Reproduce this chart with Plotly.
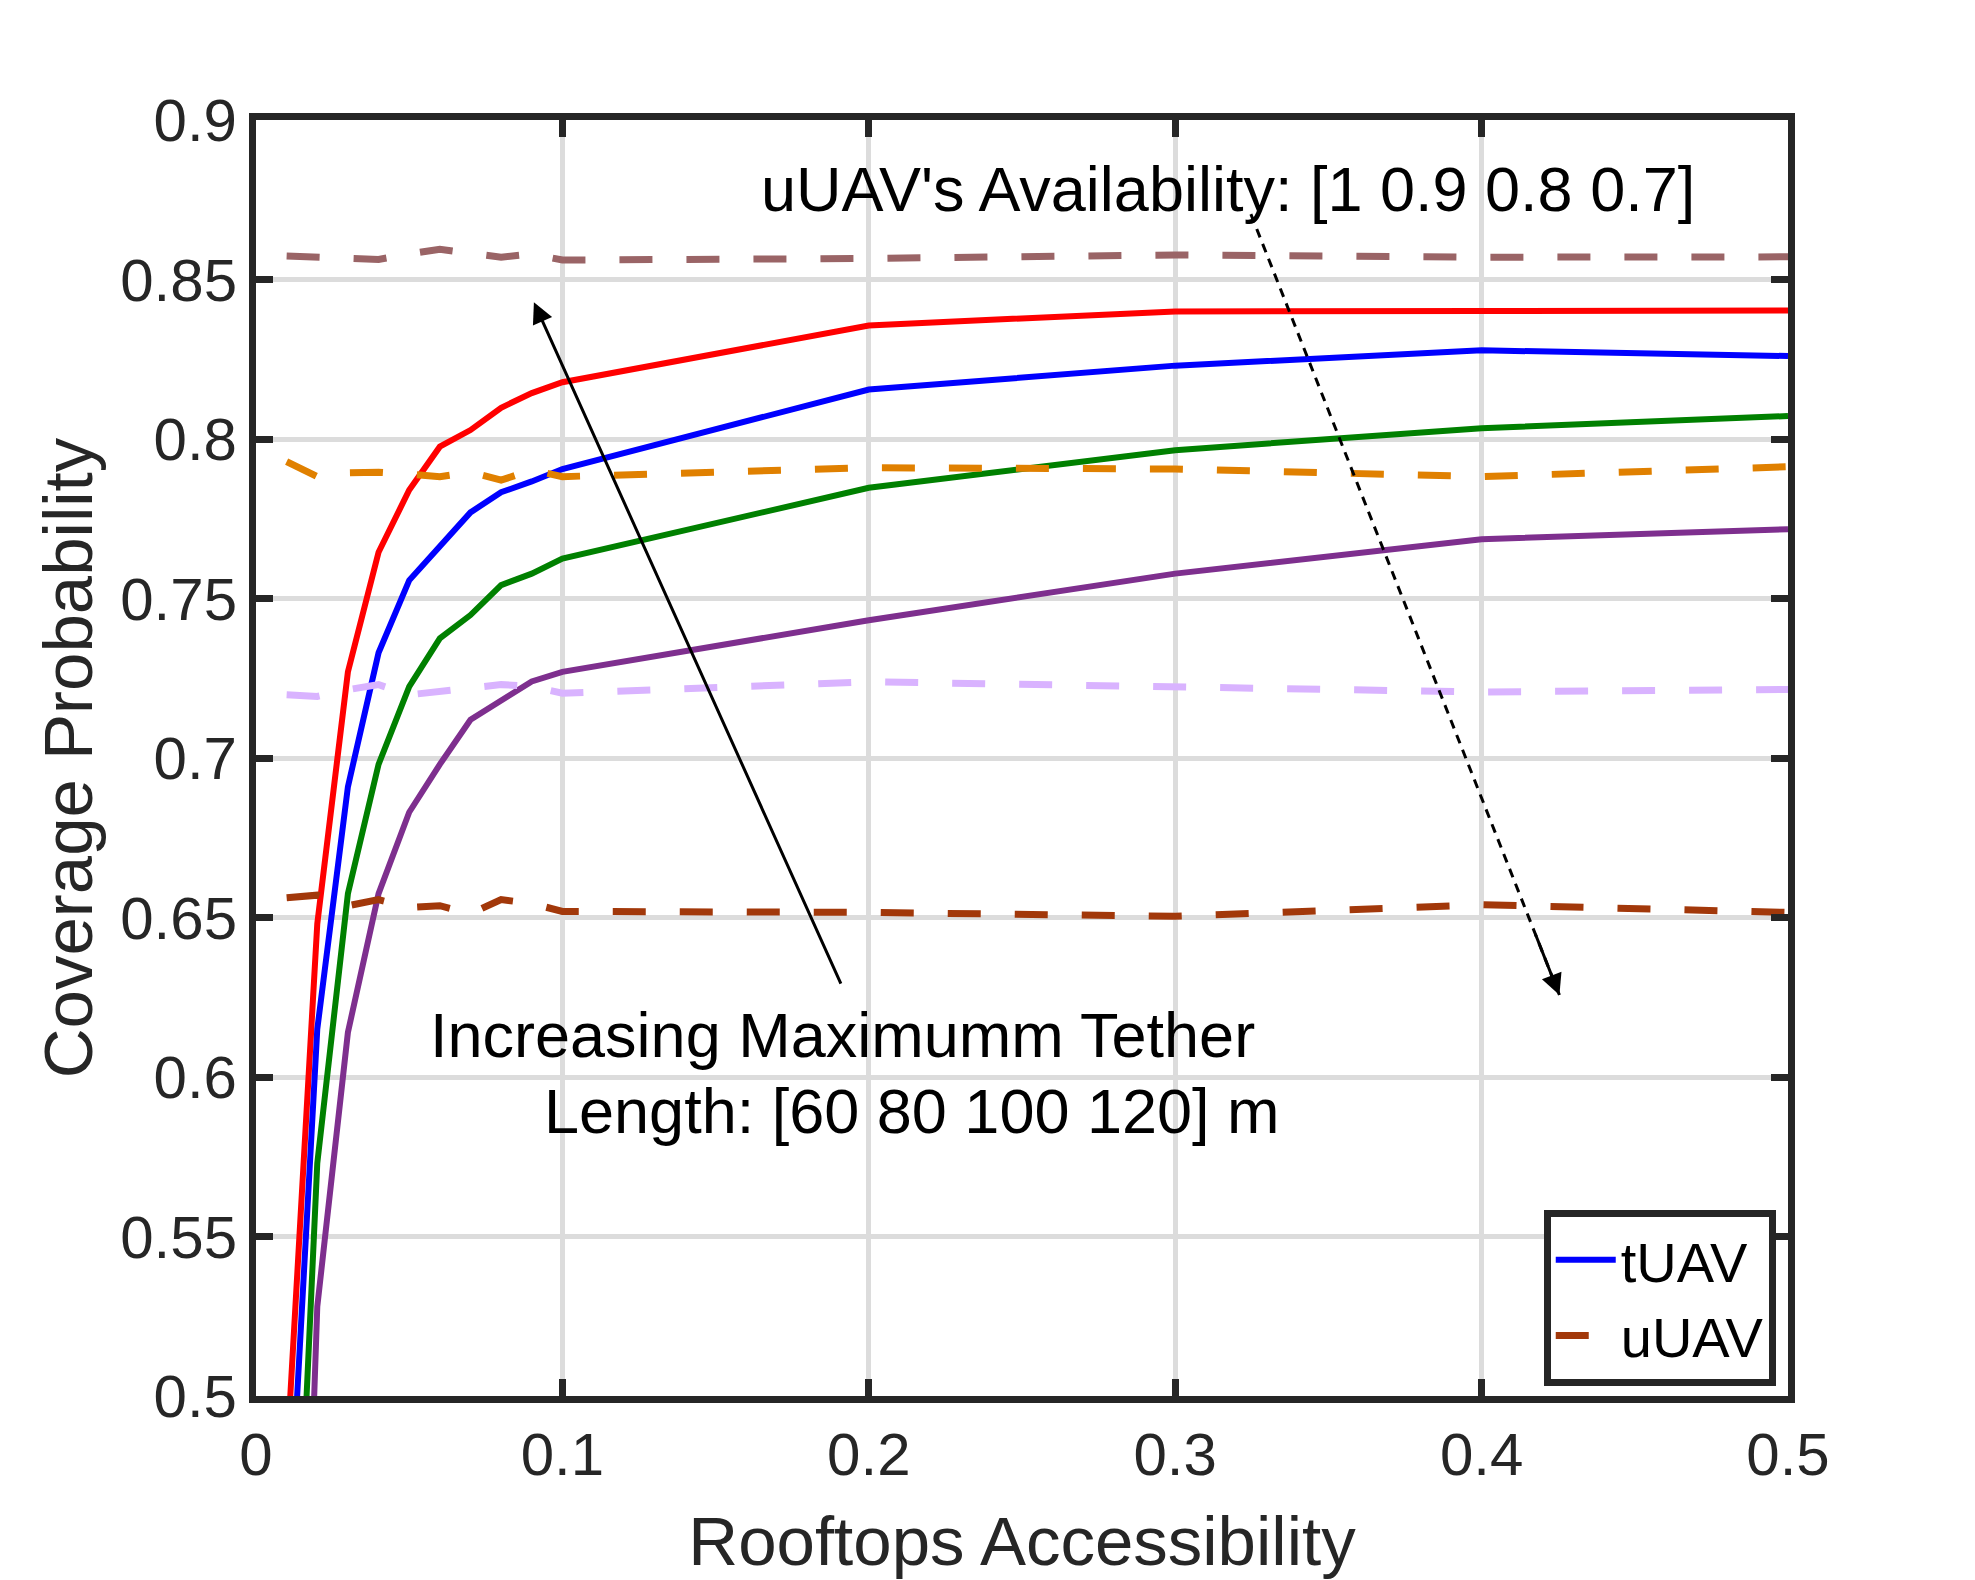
import plotly.graph_objects as go

# ---------------- data ----------------
rooftop_access = [0.01, 0.02, 0.03, 0.04, 0.05, 0.06, 0.07, 0.08, 0.09, 0.1, 0.2, 0.3, 0.4, 0.5]

tuav_120 = [0.48, 0.648, 0.727, 0.7645, 0.784, 0.7976, 0.8028, 0.8098, 0.8144, 0.8178, 0.8356, 0.8400, 0.8401, 0.8403]
tuav_100 = [0.44, 0.615, 0.691, 0.733, 0.7557, 0.7667, 0.777, 0.7833, 0.7867, 0.7906, 0.8155, 0.823, 0.8278, 0.826]
tuav_80 = [0.364, 0.573, 0.6575, 0.698, 0.7224, 0.7375, 0.7448, 0.7542, 0.7578, 0.7625, 0.7847, 0.7965, 0.8034, 0.8072]
tuav_60 = [0.25, 0.528, 0.614, 0.6575, 0.683, 0.698, 0.712, 0.718, 0.724, 0.727, 0.7432, 0.7578, 0.7686, 0.7717]

uuav_100 = [0.8574, 0.857, 0.8566, 0.8563, 0.858, 0.8595, 0.8582, 0.857, 0.858, 0.8561, 0.8566, 0.8577, 0.857, 0.8571]
uuav_90 = [0.7929, 0.7882, 0.7894, 0.7896, 0.789, 0.7882, 0.7896, 0.7871, 0.7903, 0.7882, 0.791, 0.7906, 0.7882, 0.7913]
uuav_80 = [0.7198, 0.7193, 0.7214, 0.723, 0.7198, 0.721, 0.722, 0.723, 0.7225, 0.7203, 0.7239, 0.7223, 0.7207, 0.7215]
uuav_70 = [0.6562, 0.657, 0.6537, 0.6556, 0.6531, 0.6537, 0.6512, 0.6556, 0.6544, 0.6519, 0.6516, 0.6504, 0.654, 0.6516]

x_tick_vals = [0, 0.1, 0.2, 0.3, 0.4, 0.5]
x_tick_text = ["0", "0.1", "0.2", "0.3", "0.4", "0.5"]
y_tick_vals = [0.5, 0.55, 0.6, 0.65, 0.7, 0.75, 0.8, 0.85, 0.9]
y_tick_text = ["0.5", "0.55", "0.6", "0.65", "0.7", "0.75", "0.8", "0.85", "0.9"]

# ---------------- styling ----------------
FONT = "Liberation Sans, Arial, Helvetica, sans-serif"
AX = "#262626"

fig = go.Figure()

solid = [
    (tuav_120, "#FF0000", False),
    (tuav_100, "#0000FF", True),
    (tuav_80, "#008000", False),
    (tuav_60, "#7E2F8E", False),
]
for ys, col, show in solid:
    fig.add_trace(go.Scatter(
        x=rooftop_access, y=ys, mode="lines", name="tUAV",
        line=dict(color=col, width=6), showlegend=show, legendrank=1,
    ))

dashed = [
    (uuav_100, "#9A6466", False),
    (uuav_90, "#E08000", False),
    (uuav_80, "#D9B3FF", False),
    (uuav_70, "#A2380A", True),
]
for ys, col, show in dashed:
    fig.add_trace(go.Scatter(
        x=rooftop_access, y=ys, mode="lines", name="uUAV",
        line=dict(color=col, width=7, dash="33px,34px"), showlegend=show, legendrank=2,
    ))

axis_common = dict(
    showline=True, linecolor=AX, linewidth=7, mirror="ticks",
    ticks="inside", ticklen=17, tickwidth=7, tickcolor=AX,
    showgrid=True, gridcolor="#DCDCDC", gridwidth=5,
    zeroline=False,
    tickfont=dict(family=FONT, size=60, color=AX),
)

fig.update_xaxes(
    range=[0, 0.5], tickvals=x_tick_vals, ticktext=x_tick_text,
    title=dict(text="Rooftops Accessibility", font=dict(family=FONT, size=69, color=AX), standoff=32),
    **axis_common,
)
fig.update_yaxes(
    range=[0.5, 0.9], tickvals=y_tick_vals, ticktext=y_tick_text,
    title=dict(text="Coverage Probability", font=dict(family=FONT, size=69, color=AX), standoff=8),
    **axis_common,
)

# Text annotations
TXT = dict(family=FONT, size=63, color="#000000")
fig.add_annotation(x=0.1643, y=0.8784, xref="x", yref="y", xanchor="left", yanchor="middle",
                   text="uUAV's Availability: [1 0.9 0.8 0.7]", showarrow=False, font=TXT)
fig.add_annotation(x=0.0562, y=0.6132, xref="x", yref="y", xanchor="left", yanchor="middle",
                   text="Increasing Maximumm Tether", showarrow=False, font=TXT)
fig.add_annotation(x=0.0932, y=0.5894, xref="x", yref="y", xanchor="left", yanchor="middle",
                   text="Length: [60 80 100 120] m", showarrow=False, font=TXT)

# Solid arrow (tether length)
fig.add_annotation(x=0.0907, y=0.8429, ax=0.1911, ay=0.6288, xref="x", yref="y", axref="x", ayref="y",
                   text="", showarrow=True, arrowhead=2, arrowsize=1.4, arrowwidth=3,
                   arrowcolor="#000000", standoff=0, startstandoff=0)

# Dashed arrow (availability)
d_tail = (0.3247, 0.8705)
d_head = (0.4254, 0.6257)
fig.add_shape(type="line", xref="x", yref="y",
              x0=d_tail[0], y0=d_tail[1], x1=d_head[0], y1=d_head[1],
              line=dict(color="#000000", width=3, dash="9px,7px"))
fig.add_annotation(x=d_head[0], y=d_head[1],
                   ax=d_head[0] - 0.08 * (d_head[0] - d_tail[0]),
                   ay=d_head[1] - 0.08 * (d_head[1] - d_tail[1]),
                   xref="x", yref="y", axref="x", ayref="y",
                   text="", showarrow=True, arrowhead=2, arrowsize=1.4, arrowwidth=3,
                   arrowcolor="#000000", standoff=0, startstandoff=0)

fig.update_layout(
    width=1975, height=1580,
    margin=dict(l=256, r=187, t=120, b=184),
    paper_bgcolor="white", plot_bgcolor="white",
    font=dict(family=FONT, color=AX),
    legend=dict(
        x=0.992, y=0.008, xanchor="right", yanchor="bottom",
        bgcolor="white", bordercolor=AX, borderwidth=7,
        font=dict(family=FONT, size=56, color="#000000"),
        itemwidth=60, tracegroupgap=0,
    ),
)

fig.write_html("out.html")
